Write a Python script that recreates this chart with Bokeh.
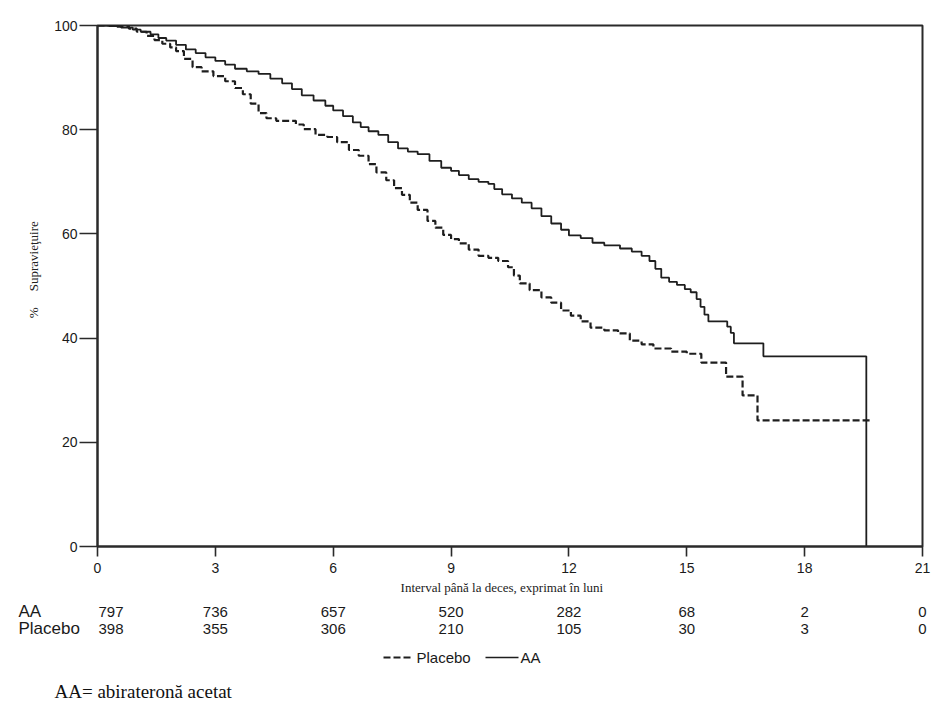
from bokeh.plotting import figure
from bokeh.layouts import column
from bokeh.models import Range1d, FixedTicker
from bokeh.core.properties import value
from bokeh.embed import file_html
from bokeh.resources import INLINE

# Kaplan-Meier estimates: time in months, survival in %
aa_time = [0, 0.3, 0.6, 0.9, 1.1, 1.35, 1.55, 1.75, 2.0, 2.25, 2.5, 2.75, 3.0, 3.25,
           3.5, 3.8, 4.1, 4.4, 4.7, 4.95, 5.2, 5.5, 5.8, 6.0, 6.25, 6.5, 6.7, 6.9,
           7.15, 7.4, 7.65, 7.9, 8.15, 8.45, 8.75, 9.0, 9.2, 9.45, 9.7, 9.95, 10.1,
           10.3, 10.55, 10.8, 11.05, 11.3, 11.55, 11.8, 12.0, 12.3, 12.6, 12.9, 13.3,
           13.6, 13.85, 14.05, 14.2, 14.35, 14.55, 14.75, 14.95, 15.1, 15.25, 15.35,
           15.45, 15.55, 16.03, 16.12, 16.2, 16.95, 19.57]
aa_surv = [100, 99.9, 99.6, 99.2, 98.8, 98.3, 97.6, 97.1, 96.3, 95.4, 94.7, 93.9, 93.2,
           92.5, 91.7, 91.2, 90.7, 89.8, 88.9, 87.8, 86.6, 85.6, 84.6, 83.7, 82.6, 81.4,
           80.5, 79.7, 79.0, 77.6, 76.4, 75.8, 75.3, 74.0, 72.7, 72.1, 71.3, 70.5, 70.0,
           69.6, 68.6, 67.6, 66.8, 66.0, 64.9, 63.4, 62.0, 60.8, 59.7, 59.2, 58.3, 57.8,
           57.2, 56.6, 55.8, 54.8, 53.3, 51.6, 50.8, 50.2, 49.4, 48.8, 47.5, 46.0, 44.5,
           43.2, 42.2, 41.0, 39.0, 36.5, 0]

placebo_time = [0, 0.5, 0.8, 1.0, 1.25, 1.45, 1.65, 1.85, 2.0, 2.2, 2.42, 2.65, 2.95,
                3.25, 3.5, 3.7, 3.9, 4.1, 4.3, 4.55, 5.05, 5.25, 5.55, 5.85, 6.1, 6.4,
                6.65, 6.9, 7.1, 7.35, 7.55, 7.75, 7.95, 8.15, 8.4, 8.6, 8.8, 9.0, 9.2,
                9.45, 9.7, 9.95, 10.2, 10.45, 10.6, 10.75, 11.0, 11.3, 11.55, 11.8, 12.05,
                12.3, 12.55, 12.9, 13.25, 13.55, 13.85, 14.15, 14.6, 15.0, 15.37, 16.0,
                16.42, 16.8, 19.73]
placebo_surv = [100, 99.8, 99.4, 98.8, 98.0, 97.2, 96.5, 95.8, 95.1, 93.6, 92.0, 91.2,
                90.3, 89.3, 88.0, 86.8, 85.0, 83.2, 82.2, 81.7, 81.0, 80.1, 79.0, 78.6,
                77.6, 76.1, 75.0, 73.4, 71.8, 70.3, 68.8, 67.5, 66.0, 64.6, 62.5, 61.2,
                59.8, 59.0, 58.2, 57.0, 55.8, 55.4, 54.8, 53.6, 52.0, 50.5, 49.2, 47.8,
                46.8, 45.3, 44.3, 43.2, 42.0, 41.5, 40.9, 39.5, 38.8, 38.0, 37.4, 37.0,
                35.3, 32.6, 29.0, 24.2, 24.2]

# Numbers at risk
risk_times = [0, 3, 6, 9, 12, 15, 18, 21]
aa_at_risk = [797, 736, 657, 520, 282, 68, 2, 0]
placebo_at_risk = [398, 355, 306, 210, 105, 30, 3, 0]

y_ticks = [0, 20, 40, 60, 80, 100]

# Canvas / frame geometry (pixels)
W = 944
CHART_H, TABLE_H = 600, 108
LEFT, RIGHT, TOP, BOTTOM = 97, 922, 25, 546
X_MAX, Y_MAX = 21, 100

SANS = "Liberation Sans"
SERIF = "Liberation Serif"
INK = "#1e1e1e"
NBSP = "\u00a0"


def dx(px):
    """Canvas x pixel -> months, on the chart's x scale."""
    return (px - LEFT) / (RIGHT - LEFT) * X_MAX


# ---------------- survival chart ----------------
p = figure(width=W, height=CHART_H,
           x_range=Range1d(0, X_MAX), y_range=Range1d(0, Y_MAX),
           output_backend="svg", toolbar_location=None,
           min_border_left=LEFT, min_border_right=W - RIGHT,
           min_border_top=TOP, min_border_bottom=CHART_H - BOTTOM)
p.frame_align = False

p.background_fill_color = "white"
p.border_fill_color = "white"
p.outline_line_color = "#2a2a2a"
p.outline_line_width = 2
p.xgrid.visible = False
p.ygrid.visible = False

for ax in (p.xaxis[0], p.yaxis[0]):
    ax.axis_line_color = "#2a2a2a"
    ax.axis_line_width = 2
    ax.major_tick_line_color = "#2a2a2a"
    ax.major_tick_line_width = 1.6
    ax.major_tick_in = 0
    ax.minor_tick_in = 0
    ax.minor_tick_out = 0
    ax.major_label_text_font = SANS
    ax.major_label_text_font_size = "14px"
    ax.major_label_text_color = "#1a1a1a"
    ax.axis_label_text_font = SERIF
    ax.axis_label_text_font_size = "13px"
    ax.axis_label_text_font_style = "normal"
    ax.axis_label_text_color = "#222222"

p.xaxis.ticker = FixedTicker(ticks=risk_times)
p.xaxis.major_tick_out = 10
p.xaxis.major_label_standoff = 6
p.xaxis.axis_label = "Interval până la deces, exprimat în luni" + NBSP * 5
p.xaxis.axis_label_standoff = 4

p.yaxis.ticker = FixedTicker(ticks=y_ticks)
p.yaxis.major_tick_out = 18
p.yaxis.major_label_standoff = 2
p.yaxis.axis_label = NBSP * 10 + "%" + NBSP * 5 + "Supravieţuire"
p.yaxis.axis_label_standoff = 10

p.step(placebo_time, placebo_surv, mode="after", line_color=INK,
       line_width=2.2, line_dash="7 3")
p.step(aa_time, aa_surv, mode="after", line_color=INK, line_width=1.8)

# ---------------- numbers at risk, legend, footnote ----------------
# Same x scale as the chart; y measured in canvas pixels from the page top.
t = figure(width=W, height=TABLE_H,
           x_range=Range1d(dx(0), dx(W)), y_range=Range1d(CHART_H + TABLE_H, CHART_H),
           output_backend="svg", toolbar_location=None,
           x_axis_location=None, y_axis_location=None,
           min_border=0, min_border_left=0, min_border_right=0,
           min_border_top=0, min_border_bottom=0)
t.frame_align = False
t.outline_line_color = None
t.background_fill_color = "white"
t.border_fill_color = "white"
t.grid.visible = False

ROW_AA, ROW_PL = 611, 628

t.text(x=[dx(18), dx(18)], y=[ROW_AA, ROW_PL], text=["AA", "Placebo"],
       text_font=value(SANS), text_font_size=value("17px"),
       text_align="left", text_baseline="middle", text_color="#1a1a1a")

# first column starts at the y axis, the rest are centred on their ticks
t.text(x=[dx(98), dx(98)], y=[ROW_AA, ROW_PL],
       text=[str(aa_at_risk[0]), str(placebo_at_risk[0])],
       text_font=value(SANS), text_font_size=value("15px"),
       text_align="left", text_baseline="middle", text_color="#1a1a1a")
t.text(x=risk_times[1:] + risk_times[1:],
       y=[ROW_AA] * (len(risk_times) - 1) + [ROW_PL] * (len(risk_times) - 1),
       text=[str(v) for v in aa_at_risk[1:]] + [str(v) for v in placebo_at_risk[1:]],
       text_font=value(SANS), text_font_size=value("15px"),
       text_align="center", text_baseline="middle", text_color="#1a1a1a")

# legend
LEG_Y = 657
t.segment(x0=[dx(383)], y0=[LEG_Y], x1=[dx(413)], y1=[LEG_Y],
          line_color=INK, line_width=1.8, line_dash="7 3")
t.segment(x0=[dx(485)], y0=[LEG_Y], x1=[dx(518)], y1=[LEG_Y],
          line_color=INK, line_width=1.6)
t.text(x=[dx(416), dx(520)], y=[LEG_Y, LEG_Y], text=["Placebo", "AA"],
       text_font=value(SANS), text_font_size=value("15px"),
       text_align="left", text_baseline="middle", text_color="#1a1a1a")

# footnote
t.text(x=[dx(54)], y=[691], text=["AA= abirateronă acetat"],
       text_font=value(SERIF), text_font_size=value("19px"),
       text_align="left", text_baseline="middle", text_color="#111111")

layout = column(p, t, spacing=0)
open("out.html", "w").write(file_html(layout, INLINE))
